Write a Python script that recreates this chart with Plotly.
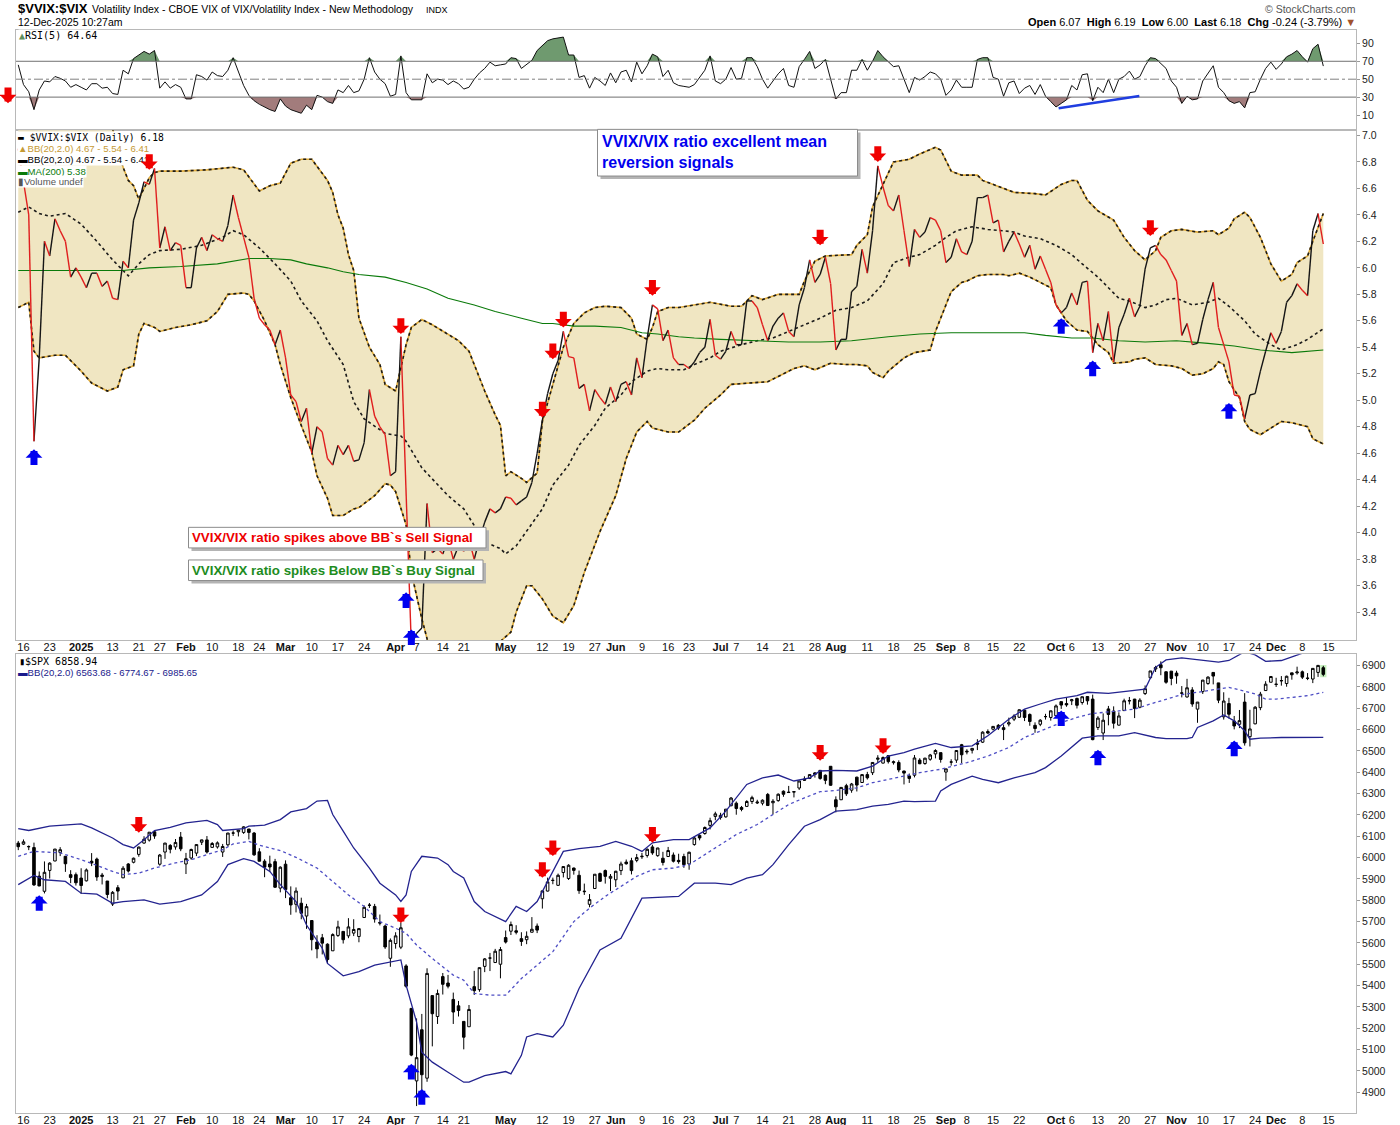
import pandas as pd
import plotly.graph_objects as go

# trading calendar (Dec 13 2024 .. Dec 15 2025)
HOLIDAYS = ["2024-12-25", "2025-01-01", "2025-01-09", "2025-01-20", "2025-02-17", "2025-04-18",
            "2025-05-26", "2025-06-19", "2025-07-04", "2025-09-01", "2025-11-27"]
sessions = [d.strftime("%Y-%m-%d") for d in pd.bdate_range("2024-12-13", "2025-12-15")
            if d.strftime("%Y-%m-%d") not in HOLIDAYS]
session_pos = {d: k for k, d in enumerate(sessions)}

tick_dates = ["2024-12-16", "2024-12-23", "2025-01-02", "2025-01-13", "2025-01-21", "2025-01-27",
              "2025-02-03", "2025-02-10", "2025-02-18", "2025-02-24", "2025-03-03", "2025-03-10",
              "2025-03-17", "2025-03-24", "2025-04-01", "2025-04-07", "2025-04-14", "2025-04-21",
              "2025-05-01", "2025-05-12", "2025-05-19", "2025-05-27", "2025-06-02", "2025-06-09",
              "2025-06-16", "2025-06-23", "2025-07-01", "2025-07-07", "2025-07-14", "2025-07-21",
              "2025-07-28", "2025-08-01", "2025-08-11", "2025-08-18", "2025-08-25", "2025-09-02",
              "2025-09-08", "2025-09-15", "2025-09-22", "2025-10-01", "2025-10-06", "2025-10-13",
              "2025-10-20", "2025-10-27", "2025-11-03", "2025-11-10", "2025-11-17", "2025-11-24",
              "2025-12-01", "2025-12-08", "2025-12-15"]
tick_labels = ["16", "23", "2025", "13", "21", "27", "Feb", "10", "18", "24", "Mar", "10", "17", "24",
               "Apr", "7", "14", "21", "May", "12", "19", "27", "Jun", "9", "16", "23", "Jul", "7", "14",
               "21", "28", "Aug", "11", "18", "25", "Sep", "8", "15", "22", "Oct", "6", "13", "20", "27",
               "Nov", "10", "17", "24", "Dec", "8", "15"]

rsi_ticks = [10, 30, 50, 70, 90]
ratio_ticks = [3.4, 3.6, 3.8, 4.0, 4.2, 4.4, 4.6, 4.8, 5.0, 5.2, 5.4, 5.6, 5.8, 6.0, 6.2, 6.4, 6.6, 6.8, 7.0]
spx_ticks = [4900, 5000, 5100, 5200, 5300, 5400, 5500, 5600, 5700, 5800, 5900, 6000, 6100, 6200,
             6300, 6400, 6500, 6600, 6700, 6800, 6900]

# $VVIX:$VIX daily close
ratio_close = [
    6.90, 6.65, 6.40, 4.69, 5.32, 6.20, 6.09, 6.37, 6.28, 6.20,
    5.93, 6.00, 5.93, 5.85, 5.96, 5.96, 5.86, 5.90, 5.77, 5.76,
    6.05, 6.00, 6.36, 6.49, 6.65, 6.63, 6.75, 6.15, 6.31, 6.13,
    6.19, 6.17, 5.85, 5.85, 6.15, 6.23, 6.13, 6.25, 6.22, 6.20,
    6.32, 6.55, 6.38, 6.23, 6.08, 5.77, 5.62, 5.57, 5.53, 5.42,
    5.53, 5.32, 5.04, 4.99, 4.84, 4.94, 4.60, 4.80, 4.76, 4.56,
    4.51, 4.66, 4.59, 4.66, 4.54, 4.55, 4.68, 5.08, 4.88, 4.80,
    4.74, 4.43, 4.46, 5.48, 4.30, 3.15, 3.24, 3.28, 4.22, 3.85,
    3.88, 3.84, 3.95, 3.80, 3.90, 3.86, 3.95, 3.80, 3.95, 4.08,
    4.18, 4.15, 4.18, 4.27, 4.26, 4.21, 4.24, 4.27, 4.38, 4.60,
    4.85, 5.05, 5.20, 5.30, 5.52, 5.33, 5.32, 5.09, 5.12, 4.92,
    5.08, 5.02, 4.97, 5.10, 4.99, 5.12, 5.14, 5.04, 5.32, 5.17,
    5.47, 5.72, 5.69, 5.45, 5.53, 5.32, 5.27, 5.27, 5.24, 5.29,
    5.36, 5.40, 5.61, 5.34, 5.31, 5.37, 5.52, 5.42, 5.42, 5.75,
    5.75, 5.70, 5.57, 5.45, 5.56, 5.62, 5.66, 5.52, 5.48, 5.72,
    5.85, 6.06, 5.89, 5.95, 6.08, 5.88, 5.38, 5.46, 5.46, 5.82,
    5.86, 6.14, 5.96, 6.28, 6.77, 6.61, 6.47, 6.43, 6.55, 6.28,
    6.01, 6.29, 6.23, 6.27, 6.38, 6.36, 6.28, 6.04, 6.08, 6.22,
    6.12, 6.10, 6.20, 6.53, 6.53, 6.55, 6.34, 6.36, 6.12, 6.20,
    6.27, 6.18, 6.08, 6.17, 5.99, 6.09, 5.99, 5.89, 5.72, 5.66,
    5.70, 5.81, 5.72, 5.89, 5.90, 5.36, 5.58, 5.45, 5.67, 5.29,
    5.55, 5.65, 5.77, 5.63, 5.71, 5.99, 6.15, 6.17, 6.10, 6.06,
    5.98, 5.90, 5.49, 5.58, 5.42, 5.43, 5.61, 5.76, 5.89, 5.55,
    5.42, 5.29, 5.04, 5.03, 4.86, 5.04, 5.05, 5.22, 5.37, 5.51,
    5.43, 5.52, 5.74, 5.79, 5.88, 5.83, 5.79, 6.28, 6.41, 6.18,
]

# RSI(5)
rsi5 = [
    66, 44, 36, 16, 38, 48, 47, 53, 51, 48,
    41, 44, 41, 38, 45, 45, 40, 41, 34, 33,
    60, 56, 73, 77, 81, 78, 82, 40, 47, 40,
    44, 41, 28, 28, 55, 53, 49, 58, 54, 53,
    60, 74, 58, 43, 32, 26, 22, 19, 16, 14,
    28, 20, 16, 14, 12, 21, 16, 32, 30, 25,
    23, 38, 35, 43, 35, 37, 50, 74, 58, 50,
    45, 31, 33, 76, 35, 27, 27, 27, 56, 46,
    50, 49, 44, 48, 45, 39, 41, 50, 57, 62,
    69, 65, 66, 67, 74, 73, 62, 66, 71, 82,
    88, 93, 95, 96, 97, 77, 77, 52, 54, 40,
    52, 48, 43, 57, 46, 58, 60, 47, 69, 56,
    65, 78, 75, 53, 60, 46, 43, 42, 41, 44,
    52, 60, 76, 48, 45, 50, 63, 50, 51, 74,
    74, 64, 50, 40, 48, 56, 62, 43, 41, 64,
    72, 81, 62, 66, 72, 50, 28, 35, 35, 60,
    60, 72, 60, 70, 82, 75, 69, 64, 65, 50,
    35, 52, 49, 53, 58, 56, 50, 32, 38, 49,
    41, 41, 41, 72, 74, 74, 52, 50, 31, 46,
    48, 34, 40, 43, 33, 44, 31, 25, 19, 23,
    27, 43, 38, 55, 56, 26, 41, 35, 50, 35,
    50, 53, 59, 50, 53, 65, 74, 73, 68, 62,
    48, 41, 23, 31, 27, 28, 48, 57, 65, 41,
    35, 26, 23, 25, 18, 35, 36, 50, 62, 69,
    61, 67, 75, 78, 82, 75, 69, 84, 89, 64.64,
]

# $SPX daily candles
spx_open = [
    6068, 6063, 6052, 6047, 5913, 5842, 5940, 5984, 6024, 6006,
    5920, 5920, 5904, 5891, 5983, 5993, 5911, 5890, 5782, 5859,
    5905, 5970, 5978, 6015, 6068, 6082, 6121, 5969, 6026, 6057,
    6050, 6096, 5970, 5998, 6021, 6072, 6083, 6048, 6050, 6026,
    6060, 6115, 6121, 6118, 6134, 6115, 6027, 5983, 5970, 5981,
    5857, 5969, 5812, 5781, 5786, 5726, 5705, 5604, 5624, 5594,
    5563, 5635, 5654, 5633, 5646, 5630, 5719, 5776, 5771, 5696,
    5679, 5528, 5597, 5580, 5492, 5293, 4953, 5193, 4966, 5353,
    5255, 5442, 5412, 5335, 5305, 5232, 5207, 5395, 5381, 5490,
    5529, 5508, 5500, 5625, 5655, 5657, 5620, 5615, 5650, 5679,
    5807, 5843, 5893, 5870, 5930, 5902, 5951, 5917, 5840, 5781,
    5855, 5925, 5939, 5903, 5896, 5939, 5979, 5985, 5987, 6004,
    6010, 6050, 6009, 5997, 6005, 6012, 5987, 6005, 5970, 6061,
    6104, 6113, 6151, 6193, 6188, 6191, 6243, 6255, 6235, 6240,
    6263, 6256, 6255, 6296, 6257, 6267, 6311, 6307, 6307, 6326,
    6368, 6371, 6397, 6409, 6386, 6428, 6271, 6271, 6337, 6316,
    6377, 6352, 6389, 6398, 6461, 6443, 6478, 6445, 6446, 6406,
    6383, 6386, 6457, 6441, 6461, 6486, 6492, 6401, 6448, 6457,
    6529, 6499, 6503, 6537, 6541, 6591, 6602, 6620, 6609, 6626,
    6649, 6658, 6691, 6671, 6620, 6625, 6661, 6657, 6665, 6731,
    6722, 6735, 6746, 6727, 6755, 6743, 6610, 6584, 6697, 6687,
    6621, 6689, 6736, 6743, 6705, 6769, 6843, 6884, 6904, 6871,
    6874, 6865, 6772, 6753, 6786, 6696, 6778, 6816, 6868, 6819,
    6660, 6722, 6640, 6625, 6729, 6567, 6627, 6703, 6783, 6822,
    6813, 6830, 6816, 6866, 6866, 6871, 6840, 6837, 6868, 6890,
]
spx_high = [
    6078, 6085, 6057, 6070, 5935, 5982, 5978, 6040, 6049, 6006,
    5941, 5930, 5950, 5949, 6021, 6000, 5928, 5890, 5843, 5871,
    5960, 5974, 6000, 6052, 6100, 6119, 6128, 6017, 6069, 6063,
    6087, 6120, 6022, 6042, 6062, 6084, 6101, 6073, 6076, 6064,
    6116, 6127, 6129, 6147, 6134, 6120, 6044, 5992, 6009, 5994,
    5959, 5987, 5865, 5860, 5812, 5783, 5705, 5636, 5642, 5598,
    5645, 5704, 5654, 5716, 5711, 5670, 5776, 5787, 5783, 5733,
    5685, 5621, 5650, 5696, 5500, 5293, 5246, 5267, 5481, 5353,
    5381, 5459, 5450, 5367, 5328, 5232, 5309, 5469, 5484, 5529,
    5553, 5572, 5581, 5658, 5700, 5683, 5650, 5654, 5721, 5691,
    5845, 5906, 5906, 5925, 5958, 5969, 5953, 5939, 5878, 5829,
    5922, 5930, 5944, 5923, 5938, 5981, 5991, 5999, 6017, 6022,
    6043, 6060, 6046, 6027, 6050, 6024, 6018, 6018, 6028, 6101,
    6109, 6146, 6187, 6215, 6210, 6227, 6284, 6263, 6242, 6269,
    6290, 6271, 6273, 6303, 6274, 6301, 6315, 6336, 6310, 6360,
    6381, 6390, 6401, 6409, 6390, 6428, 6287, 6330, 6346, 6350,
    6379, 6390, 6402, 6446, 6480, 6474, 6481, 6455, 6456, 6407,
    6394, 6481, 6466, 6468, 6486, 6508, 6492, 6416, 6461, 6502,
    6533, 6508, 6513, 6555, 6592, 6601, 6616, 6626, 6624, 6656,
    6672, 6695, 6693, 6676, 6634, 6649, 6674, 6689, 6718, 6731,
    6750, 6744, 6750, 6755, 6756, 6764, 6663, 6676, 6711, 6709,
    6681, 6745, 6753, 6744, 6747, 6807, 6875, 6899, 6920, 6873,
    6875, 6876, 6804, 6838, 6799, 6729, 6833, 6850, 6869, 6819,
    6775, 6749, 6664, 6692, 6771, 6693, 6710, 6777, 6827, 6850,
    6843, 6851, 6853, 6866, 6895, 6877, 6865, 6887, 6903, 6899,
]
spx_low = [
    6035, 6059, 6035, 5867, 5866, 5832, 5902, 5983, 6007, 5933,
    5880, 5869, 5830, 5888, 5960, 5891, 5874, 5809, 5773, 5801,
    5904, 5930, 5973, 6004, 6065, 6075, 6088, 5962, 5994, 6020,
    6037, 6030, 5923, 5990, 6007, 6059, 6019, 6045, 6042, 6003,
    6052, 6101, 6099, 6111, 6085, 6008, 5982, 5908, 5932, 5858,
    5837, 5810, 5732, 5743, 5711, 5666, 5565, 5528, 5546, 5504,
    5563, 5628, 5597, 5622, 5632, 5603, 5719, 5764, 5695, 5682,
    5572, 5488, 5573, 5571, 5390, 5069, 4835, 4910, 4949, 5115,
    5220, 5358, 5387, 5220, 5255, 5101, 5207, 5356, 5371, 5463,
    5468, 5506, 5434, 5597, 5637, 5640, 5586, 5594, 5650, 5646,
    5761, 5841, 5875, 5867, 5907, 5895, 5920, 5830, 5825, 5767,
    5854, 5886, 5878, 5843, 5862, 5918, 5967, 5921, 5978, 5994,
    6000, 6013, 6004, 5963, 6004, 5977, 5971, 5952, 5943, 6056,
    6081, 6107, 6132, 6175, 6178, 6187, 6241, 6201, 6217, 6237,
    6251, 6251, 6245, 6242, 6202, 6262, 6285, 6303, 6282, 6317,
    6360, 6368, 6375, 6365, 6344, 6337, 6212, 6270, 6289, 6304,
    6310, 6350, 6366, 6387, 6444, 6441, 6441, 6436, 6400, 6343,
    6350, 6376, 6438, 6435, 6454, 6465, 6445, 6360, 6431, 6444,
    6443, 6484, 6488, 6504, 6537, 6579, 6596, 6598, 6551, 6615,
    6640, 6655, 6640, 6618, 6585, 6616, 6647, 6642, 6662, 6697,
    6707, 6715, 6699, 6717, 6717, 6550, 6598, 6551, 6620, 6605,
    6619, 6688, 6718, 6654, 6700, 6762, 6837, 6870, 6855, 6815,
    6808, 6815, 6751, 6750, 6707, 6632, 6767, 6810, 6812, 6724,
    6647, 6652, 6601, 6607, 6525, 6521, 6625, 6691, 6782, 6822,
    6800, 6806, 6801, 6834, 6858, 6837, 6832, 6818, 6847, 6850,
]
spx_close = [
    6051, 6074, 6051, 5872, 5867, 5931, 5974, 6040, 6037, 5971,
    5907, 5882, 5869, 5942, 5975, 5909, 5918, 5827, 5837, 5843,
    5950, 5937, 5997, 6049, 6086, 6119, 6101, 6012, 6068, 6039,
    6071, 6041, 5995, 6038, 6061, 6083, 6026, 6066, 6069, 6052,
    6115, 6115, 6129, 6144, 6118, 6013, 5983, 5955, 5956, 5861,
    5955, 5850, 5778, 5843, 5739, 5770, 5615, 5572, 5599, 5522,
    5639, 5675, 5615, 5675, 5663, 5667, 5767, 5777, 5712, 5693,
    5581, 5612, 5633, 5671, 5397, 5074, 5062, 4982, 5457, 5268,
    5363, 5406, 5397, 5276, 5283, 5158, 5288, 5376, 5484, 5525,
    5529, 5561, 5569, 5604, 5686, 5650, 5607, 5631, 5664, 5660,
    5844, 5886, 5893, 5917, 5958, 5964, 5940, 5845, 5842, 5803,
    5922, 5889, 5912, 5912, 5936, 5970, 5971, 5939, 6000, 6006,
    6039, 6022, 6045, 5977, 6033, 5983, 5981, 5967, 6025, 6092,
    6092, 6141, 6173, 6205, 6198, 6227, 6279, 6230, 6226, 6263,
    6281, 6260, 6269, 6244, 6264, 6297, 6297, 6305, 6309, 6359,
    6363, 6389, 6390, 6371, 6362, 6339, 6238, 6329, 6299, 6345,
    6340, 6389, 6374, 6446, 6466, 6469, 6450, 6449, 6411, 6396,
    6371, 6467, 6440, 6466, 6481, 6502, 6460, 6416, 6448, 6502,
    6482, 6496, 6512, 6532, 6588, 6584, 6615, 6607, 6600, 6632,
    6664, 6693, 6657, 6638, 6605, 6644, 6661, 6688, 6711, 6715,
    6716, 6740, 6714, 6754, 6735, 6553, 6654, 6644, 6671, 6630,
    6664, 6735, 6735, 6699, 6738, 6792, 6875, 6891, 6890, 6822,
    6840, 6852, 6771, 6796, 6720, 6729, 6832, 6846, 6851, 6738,
    6734, 6672, 6617, 6642, 6538, 6603, 6705, 6766, 6813, 6849,
    6812, 6829, 6850, 6857, 6870, 6846, 6841, 6887, 6901, 6859,
]

# indicator readings (session number, value)
ratio_bb_upper = [
    (0, 7.15), (2, 7.25), (4, 7.40), (7, 7.45), (10, 7.48), (13, 7.40), (16, 7.20), (18, 7.05), (19, 6.90), (20, 6.76),
    (21, 6.66), (22, 6.62), (23, 6.52), (24, 6.60), (25, 6.68), (26, 6.72), (27, 6.73), (31, 6.73), (36, 6.74), (41, 6.76),
    (43, 6.74), (46, 6.58), (48, 6.62), (50, 6.64), (52, 6.79), (54, 6.82), (56, 6.82), (59, 6.66), (60, 6.57), (61, 6.40),
    (62, 6.30), (63, 6.10), (64, 5.98), (65, 5.62), (67, 5.40), (69, 5.27), (70, 5.12), (72, 5.07), (73, 5.24), (74, 5.42),
    (75, 5.55), (77, 5.61), (79, 5.57), (82, 5.50), (84, 5.45), (86, 5.37), (87, 5.27), (89, 5.07), (91, 4.89), (92, 4.81),
    (93, 4.43), (94, 4.46), (96, 4.41), (97, 4.38), (99, 4.45), (100, 4.84), (102, 5.12), (104, 5.40), (106, 5.58), (108, 5.66),
    (110, 5.70), (112, 5.71), (115, 5.70), (117, 5.62), (118, 5.50), (120, 5.46), (121, 5.55), (122, 5.67), (124, 5.70), (126, 5.70),
    (132, 5.74), (136, 5.71), (138, 5.71), (140, 5.79), (142, 5.76), (145, 5.80), (149, 5.80), (150, 5.90), (152, 6.05), (154, 6.09),
    (159, 6.10), (160, 6.17), (162, 6.25), (163, 6.46), (165, 6.63), (167, 6.80), (170, 6.82), (172, 6.86), (175, 6.91), (176, 6.89),
    (178, 6.73), (180, 6.70), (183, 6.70), (184, 6.66), (188, 6.60), (190, 6.57), (194, 6.56), (196, 6.55), (199, 6.63), (201, 6.66),
    (202, 6.66), (204, 6.51), (206, 6.43), (209, 6.36), (211, 6.23), (213, 6.13), (215, 6.06), (217, 6.13), (218, 6.23), (220, 6.28),
    (222, 6.29), (225, 6.27), (228, 6.28), (229, 6.25), (231, 6.30), (232, 6.37), (234, 6.42), (235, 6.38), (237, 6.23), (239, 6.03),
    (241, 5.90), (243, 5.95), (244, 6.04), (246, 6.09), (247, 6.20), (249, 6.41),
]
ratio_bb_lower = [
    (0, 5.70), (2, 5.74), (3, 5.37), (4, 5.32), (7, 5.34), (9, 5.34), (12, 5.22), (14, 5.13), (17, 5.07), (19, 5.10),
    (20, 5.23), (22, 5.26), (23, 5.50), (24, 5.58), (26, 5.55), (27, 5.52), (30, 5.55), (33, 5.57), (36, 5.60), (38, 5.67),
    (40, 5.80), (43, 5.81), (44, 5.80), (45, 5.75), (47, 5.60), (49, 5.42), (50, 5.27), (52, 5.02), (54, 4.81), (56, 4.61),
    (57, 4.43), (59, 4.26), (60, 4.13), (62, 4.13), (64, 4.18), (65, 4.19), (68, 4.28), (70, 4.37), (71, 4.36), (72, 4.31),
    (74, 4.06), (75, 3.70), (77, 3.35), (79, 3.05), (81, 2.90), (85, 2.85), (89, 2.95), (92, 3.18), (94, 3.25), (95, 3.40),
    (97, 3.60), (98, 3.60), (100, 3.50), (102, 3.37), (104, 3.32), (106, 3.45), (108, 3.70), (111, 4.01), (114, 4.28), (116, 4.56),
    (118, 4.76), (120, 4.84), (121, 4.79), (124, 4.76), (126, 4.76), (127, 4.79), (129, 4.85), (131, 4.94), (134, 5.04), (136, 5.12),
    (139, 5.13), (143, 5.14), (145, 5.18), (148, 5.24), (150, 5.26), (152, 5.23), (155, 5.28), (158, 5.27), (160, 5.27), (162, 5.26),
    (163, 5.21), (165, 5.17), (166, 5.22), (169, 5.32), (171, 5.36), (174, 5.38), (175, 5.52), (176, 5.62), (178, 5.82), (180, 5.89),
    (181, 5.90), (183, 5.94), (185, 5.95), (188, 5.95), (189, 5.94), (191, 5.96), (193, 5.93), (195, 5.89), (197, 5.85), (198, 5.72),
    (200, 5.60), (202, 5.53), (204, 5.52), (206, 5.42), (208, 5.36), (209, 5.28), (212, 5.29), (213, 5.31), (215, 5.32), (217, 5.27),
    (220, 5.26), (222, 5.24), (224, 5.19), (226, 5.20), (228, 5.24), (229, 5.29), (230, 5.27), (231, 5.14), (233, 5.02), (234, 4.84),
    (235, 4.78), (237, 4.74), (239, 4.79), (241, 4.84), (243, 4.83), (245, 4.81), (246, 4.80), (247, 4.71), (249, 4.67),
]
ratio_bb_mid = [
    (0, 6.42), (2, 6.46), (4, 6.41), (6, 6.39), (9, 6.41), (12, 6.33), (15, 6.20), (18, 6.06), (20, 5.98), (21, 5.94),
    (23, 6.03), (25, 6.10), (27, 6.13), (31, 6.14), (35, 6.17), (39, 6.23), (41, 6.28), (43, 6.25), (46, 6.15), (49, 6.03),
    (52, 5.90), (54, 5.75), (57, 5.60), (59, 5.45), (62, 5.27), (64, 4.99), (66, 4.86), (70, 4.75), (73, 4.73), (74, 4.69),
    (77, 4.49), (80, 4.36), (82, 4.28), (85, 4.18), (87, 4.06), (89, 3.93), (92, 3.88), (93, 3.84), (95, 3.90), (97, 4.01),
    (100, 4.18), (102, 4.36), (105, 4.51), (107, 4.66), (110, 4.81), (112, 4.94), (115, 5.04), (117, 5.14), (120, 5.22), (122, 5.24),
    (124, 5.23), (127, 5.23), (129, 5.27), (132, 5.32), (134, 5.37), (138, 5.42), (141, 5.45), (144, 5.47), (147, 5.52), (150, 5.57),
    (153, 5.62), (156, 5.68), (159, 5.70), (162, 5.75), (165, 5.88), (167, 6.04), (170, 6.08), (172, 6.10), (175, 6.17), (177, 6.23),
    (179, 6.28), (182, 6.31), (185, 6.29), (188, 6.28), (190, 6.27), (192, 6.24), (195, 6.22), (198, 6.17), (201, 6.10), (203, 6.03),
    (206, 5.93), (208, 5.85), (210, 5.77), (212, 5.75), (215, 5.70), (217, 5.72), (219, 5.76), (221, 5.77), (224, 5.72), (227, 5.74),
    (229, 5.77), (231, 5.71), (234, 5.60), (236, 5.50), (239, 5.42), (241, 5.38), (244, 5.42), (246, 5.46), (249, 5.54),
]
ratio_ma200 = [
    (0, 5.98), (6, 5.98), (12, 5.98), (20, 5.98), (25, 6.00), (31, 6.01), (38, 6.03), (44, 6.07), (48, 6.07), (52, 6.06),
    (55, 6.03), (59, 6.00), (62, 5.97), (65, 5.95), (70, 5.93), (74, 5.89), (78, 5.84), (82, 5.77), (87, 5.72), (91, 5.67),
    (96, 5.62), (100, 5.58), (102, 5.58), (106, 5.56), (110, 5.56), (115, 5.55), (119, 5.51), (122, 5.50), (126, 5.48), (129, 5.47),
    (134, 5.46), (140, 5.45), (147, 5.44), (153, 5.44), (159, 5.45), (166, 5.48), (172, 5.50), (178, 5.51), (185, 5.51), (192, 5.51),
    (196, 5.49), (201, 5.47), (205, 5.47), (210, 5.45), (215, 5.44), (221, 5.45), (227, 5.43), (232, 5.41), (237, 5.38), (243, 5.36),
    (249, 5.38),
]
spx_bb_upper = [
    (0, 6136), (2, 6127), (6, 6147), (12, 6158), (14, 6139), (18, 6092), (20, 6061), (22, 6045), (24, 6084), (26, 6127),
    (29, 6142), (32, 6163), (36, 6174), (38, 6155), (39, 6127), (43, 6136), (44, 6147), (47, 6152), (50, 6178), (52, 6214),
    (55, 6230), (57, 6265), (59, 6268), (60, 6202), (62, 6124), (64, 6045), (67, 5951), (69, 5880), (72, 5825), (73, 5794),
    (74, 5825), (75, 5935), (77, 6006), (80, 5998), (82, 5967), (83, 5935), (85, 5904), (87, 5794), (89, 5747), (93, 5700),
    (95, 5771), (97, 5747), (99, 5794), (102, 5935), (104, 6029), (107, 6042), (111, 6053), (114, 6076), (117, 6053), (119, 6029),
    (121, 6069), (125, 6084), (128, 6084), (132, 6139), (135, 6218), (139, 6343), (142, 6374), (145, 6387), (148, 6359), (151, 6374),
    (153, 6406), (156, 6409), (160, 6406), (163, 6429), (166, 6476), (169, 6492), (171, 6508), (175, 6535), (178, 6516), (182, 6524),
    (185, 6571), (189, 6649), (192, 6696), (195, 6720), (198, 6743), (202, 6759), (204, 6775), (208, 6770), (211, 6779), (215, 6790),
    (217, 6892), (219, 6927), (222, 6936), (225, 6927), (229, 6916), (231, 6924), (234, 6965), (236, 6950), (238, 6920), (241, 6924),
    (243, 6940), (245, 6958), (247, 6975), (249, 6986),
]
spx_bb_mid = [
    (0, 6006), (3, 6029), (8, 6022), (13, 5982), (18, 5935), (20, 5920), (23, 5927), (26, 5951), (30, 5975), (33, 5990),
    (36, 6014), (39, 6037), (41, 6064), (44, 6076), (46, 6058), (50, 6033), (53, 6001), (57, 5951), (60, 5888), (63, 5825),
    (66, 5771), (69, 5700), (72, 5669), (74, 5645), (76, 5590), (79, 5527), (83, 5449), (85, 5425), (87, 5363), (90, 5355),
    (93, 5355), (96, 5433), (99, 5496), (102, 5559), (106, 5700), (109, 5763), (112, 5818), (115, 5865), (118, 5912), (121, 5943),
    (125, 5951), (128, 5967), (131, 6014), (134, 6061), (137, 6108), (141, 6155), (144, 6202), (147, 6249), (150, 6280), (153, 6309),
    (156, 6315), (160, 6327), (163, 6351), (166, 6367), (169, 6382), (172, 6398), (176, 6414), (181, 6445), (185, 6476), (189, 6516),
    (192, 6563), (196, 6602), (199, 6633), (202, 6657), (205, 6676), (209, 6685), (213, 6696), (216, 6720), (219, 6743), (222, 6764),
    (225, 6775), (229, 6790), (231, 6798), (233, 6786), (236, 6767), (238, 6743), (240, 6743), (243, 6751), (246, 6759), (249, 6775),
]
spx_bb_lower = [
    (0, 5873), (3, 5916), (5, 5896), (9, 5888), (12, 5833), (15, 5829), (18, 5786), (20, 5794), (24, 5802), (27, 5782),
    (31, 5794), (35, 5825), (38, 5888), (40, 5967), (43, 5995), (45, 5982), (48, 5935), (50, 5873), (53, 5794), (55, 5684),
    (58, 5575), (59, 5504), (62, 5446), (65, 5465), (68, 5496), (71, 5512), (73, 5520), (74, 5402), (76, 5229), (77, 5088),
    (79, 5041), (82, 4994), (85, 4947), (86, 4947), (89, 4978), (93, 4997), (94, 4986), (96, 5073), (97, 5159), (99, 5175),
    (102, 5159), (104, 5214), (107, 5386), (111, 5567), (115, 5622), (119, 5810), (123, 5813), (126, 5818), (129, 5880), (133, 5880),
    (136, 5873), (139, 5904), (142, 5920), (144, 5967), (147, 6061), (150, 6147), (153, 6178), (156, 6218), (160, 6225), (163, 6241),
    (166, 6249), (169, 6265), (171, 6262), (175, 6265), (176, 6312), (178, 6343), (182, 6382), (184, 6367), (187, 6351), (190, 6374),
    (194, 6398), (196, 6422), (199, 6476), (201, 6516), (203, 6560), (206, 6571), (210, 6571), (213, 6586), (217, 6563), (219, 6558),
    (223, 6558), (224, 6563), (225, 6610), (228, 6641), (230, 6669), (232, 6641), (234, 6594), (235, 6555), (237, 6560), (241, 6563),
    (245, 6563), (249, 6564),
]

# hand-drawn signal marks (session number, level at arrow tip)
ratio_sell_marks = [(25, 6.74), (73, 5.50), (100, 4.87), (102, 5.31), (104, 5.55), (121, 5.79), (153, 6.17), (164, 6.80), (216, 6.24)]
ratio_buy_marks = [(3, 4.63), (74, 3.55), (75, 3.27), (199, 5.62), (205, 5.30), (231, 4.98)]
spx_sell_marks = [(23, 6117), (73, 5693), (100, 5905), (102, 6007), (121, 6070), (153, 6454), (165, 6486)]
spx_buy_marks = [(4, 5824), (75, 5033), (77, 4915), (199, 6690), (206, 6506), (232, 6549)]
rsi_trend = [(198.5, 17.5), (213.9, 31.2)]

# ---------------------------------------------------------------------------
# layout is measured on the 1400x1125 picture; the page is photographed a
# little taller than the window and squeezed back, so the canvas is stretched
W, H = 1400, 1125
CANVAS_H = 1138
SY = CANVAS_H / H
ML, MR, MT, MB = 16, 44, 30, 16
SANS = "Liberation Sans, Arial, sans-serif"
MONO = "DejaVu Sans Mono, monospace"
RED, BLUE = "#f00000", "#0000f0"


def px(x):
    return (x - ML) / (W - ML - MR)


def py(y):
    return (H - MB - y) / (H - MT - MB)


def unzip(pairs):
    return [p[0] for p in pairs], [p[1] for p in pairs]


n = len(ratio_close)
days = list(range(n))
fig = go.Figure()

# RSI panel
fig.add_trace(go.Scatter(x=days, y=[70] * n, xaxis="x", yaxis="y", mode="lines", line=dict(width=0)))
fig.add_trace(go.Scatter(x=days, y=[max(v, 70) for v in rsi5], xaxis="x", yaxis="y", mode="lines",
                         line=dict(width=0), fill="tonexty", fillcolor="#6f9a6f"))
fig.add_trace(go.Scatter(x=days, y=[30] * n, xaxis="x", yaxis="y", mode="lines", line=dict(width=0)))
fig.add_trace(go.Scatter(x=days, y=[min(v, 30) for v in rsi5], xaxis="x", yaxis="y", mode="lines",
                         line=dict(width=0), fill="tonexty", fillcolor="#a27c7c"))
fig.add_trace(go.Scatter(x=days, y=rsi5, xaxis="x", yaxis="y", mode="lines",
                         line=dict(color="#111111", width=1)))

# ratio panel: bollinger envelope
ux, uy = unzip(ratio_bb_upper)
lx, ly = unzip(ratio_bb_lower)
mx, my = unzip(ratio_bb_mid)
ax_, ay_ = unzip(ratio_ma200)
fig.add_trace(go.Scatter(x=ux + lx[::-1], y=uy + ly[::-1], xaxis="x2", yaxis="y2", mode="lines",
                         line=dict(width=0), fill="toself", fillcolor="#f0e6c2"))
for bx, by in ((ux, uy), (lx, ly)):
    fig.add_trace(go.Scatter(x=bx, y=by, xaxis="x2", yaxis="y2", mode="lines",
                             line=dict(color="#e0ac3c", width=1.6)))
    fig.add_trace(go.Scatter(x=bx, y=by, xaxis="x2", yaxis="y2", mode="lines",
                             line=dict(color="#1a1a1a", width=1.6, dash="dot")))
fig.add_trace(go.Scatter(x=mx, y=my, xaxis="x2", yaxis="y2", mode="lines",
                         line=dict(color="#1a1a1a", width=1.6, dash="dot")))
fig.add_trace(go.Scatter(x=ax_, y=ay_, xaxis="x2", yaxis="y2", mode="lines",
                         line=dict(color="#0a7a0a", width=1.1)))

# ratio line, black on up days and red on down days
up_x, up_y, dn_x, dn_y = [], [], [], []
for k in range(1, n):
    a, b = ratio_close[k - 1], ratio_close[k]
    if b >= a:
        up_x += [k - 1, k, None]
        up_y += [a, b, None]
    else:
        dn_x += [k - 1, k, None]
        dn_y += [a, b, None]
fig.add_trace(go.Scatter(x=up_x, y=up_y, xaxis="x2", yaxis="y2", mode="lines",
                         line=dict(color="#151515", width=1.4)))
fig.add_trace(go.Scatter(x=dn_x, y=dn_y, xaxis="x2", yaxis="y2", mode="lines",
                         line=dict(color="#e01e1e", width=1.4)))

# SPX panel
sux, suy = unzip(spx_bb_upper)
slx, sly = unzip(spx_bb_lower)
smx, smy = unzip(spx_bb_mid)
for bx, by in ((sux, suy), (slx, sly)):
    fig.add_trace(go.Scatter(x=bx, y=by, xaxis="x3", yaxis="y3", mode="lines",
                             line=dict(color="#23238f", width=1.3)))
fig.add_trace(go.Scatter(x=smx, y=smy, xaxis="x3", yaxis="y3", mode="lines",
                         line=dict(color="#4d4dc4", width=1.3, dash="dot")))
fig.add_trace(go.Candlestick(
    x=days, open=spx_open, high=spx_high, low=spx_low, close=spx_close, xaxis="x3", yaxis="y3",
    increasing=dict(line=dict(color="#000000", width=1), fillcolor="#ffffff"),
    decreasing=dict(line=dict(color="#000000", width=1), fillcolor="#000000"),
    whiskerwidth=0,
))

# axes
x_range = [-0.43, 255.24]
tick_pos = [session_pos[d] for d in tick_dates]
tick_text = [t if (t.isdigit() and len(t) <= 2) else "<b>%s</b>" % t for t in tick_labels]
xcommon = dict(range=x_range, showgrid=False, zeroline=False, showline=True, mirror=True,
               linecolor="#b8b8b8", linewidth=1, fixedrange=True)
ycommon = dict(side="right", showgrid=False, zeroline=False, showline=True, mirror=True,
               linecolor="#b8b8b8", linewidth=1, ticks="outside", ticklen=3, tickcolor="#9a9a9a",
               ticklabeloverflow="allow",
               tickfont=dict(family=SANS, size=10.5, color="#222222"), fixedrange=True)
xlabels = dict(tickmode="array", tickvals=tick_pos, ticktext=tick_text, ticks="", ticklabelstandoff=-3,
               tickfont=dict(family=SANS, size=11, color="#111111"))

fig.update_layout(
    xaxis=dict(domain=[0, 1], anchor="y", showticklabels=False, ticks="", **xcommon),
    xaxis2=dict(domain=[0, 1], anchor="y2", **xlabels, **xcommon),
    xaxis3=dict(domain=[0, 1], anchor="y3", rangeslider=dict(visible=False), **xlabels, **xcommon),
    yaxis=dict(domain=[py(130), py(30)], anchor="x", range=[-7.1, 104.9], tickvals=rsi_ticks, **ycommon),
    yaxis2=dict(domain=[py(638), py(130)], anchor="x2", range=[3.188, 7.038], tickvals=ratio_ticks,
                tickformat=".1f", **ycommon),
    yaxis3=dict(domain=[py(1109), py(652)], anchor="x3", range=[4802.6, 6953], tickvals=spx_ticks,
                tickformat="d", **ycommon),
)

# shapes
shapes = [
    dict(type="line", xref="x domain", yref="y", x0=0, x1=1, y0=70, y1=70, line=dict(color="#707070", width=1)),
    dict(type="line", xref="x domain", yref="y", x0=0, x1=1, y0=30, y1=30, line=dict(color="#707070", width=1)),
    dict(type="line", xref="x domain", yref="y", x0=0, x1=1, y0=50, y1=50,
         line=dict(color="#808080", width=1, dash="dashdot")),
    dict(type="line", xref="x", yref="y", x0=rsi_trend[0][0], y0=rsi_trend[0][1], x1=rsi_trend[1][0],
         y1=rsi_trend[1][1], line=dict(color="#1f3de0", width=2.5)),
    dict(type="rect", xref="x3", yref="y3", x0=n - 1.6, x1=n - 0.4, y0=spx_low[-1] - 4, y1=spx_high[-1] + 4,
         fillcolor="#c6efbe", line=dict(width=0), layer="below"),
]
note_boxes = [(597.5, 129, 857.5, 175.5), (188.5, 525.5, 486, 546), (188.5, 558, 483, 578.5)]
for x0, y0, x1, y1 in note_boxes:
    shapes.append(dict(type="rect", xref="paper", yref="paper", x0=px(x0 + 3), x1=px(x1 + 3),
                       y0=py(y1 + 3), y1=py(y0 + 3), fillcolor="#b4b4b4", line=dict(width=0), layer="above"))
    shapes.append(dict(type="rect", xref="paper", yref="paper", x0=px(x0), x1=px(x1), y0=py(y1), y1=py(y0),
                       fillcolor="#ffffff", line=dict(color="#8c8c8c", width=1), layer="above"))


def label(x, y, text, size, color="#000000", family=SANS, anchor="left", bg=None):
    return dict(xref="paper", yref="paper", x=px(x), y=py(y), xanchor=anchor, yanchor="middle",
                text=text, showarrow=False, font=dict(family=family, size=size, color=color),
                bgcolor=bg, borderpad=0)


def block_arrow(xref, yref, x, y, color, down):
    tail = 17 * SY
    return dict(xref=xref, yref=yref, x=x, y=y, ax=0, ay=-tail if down else tail, text="",
                showarrow=True, arrowhead=1, arrowsize=0.4, arrowwidth=7, arrowcolor=color, standoff=0)


ann = [
    label(17, 9, "<b>$VVIX:$VIX</b>", 13),
    label(91, 9.5, "Volatility Index - CBOE VIX of VIX/Volatility Index - New Methodology", 10.5),
    label(425, 10, "INDX", 9),
    label(17, 22, "12-Dec-2025 10:27am", 10.5),
    label(1357, 9, "\u00a9 StockCharts.com", 10.5, color="#555555", anchor="right"),
    label(1357, 22, "<b>Open</b> 6.07  <b>High</b> 6.19  <b>Low</b> 6.00  <b>Last</b> 6.18  "
                    "<b>Chg</b> -0.24 (-3.79%) <span style='color:#a0522d'>\u25bc</span>", 11, anchor="right"),
    # panel legends
    label(18, 35, "<span style='color:#5f8f5f'>\u25b2</span>RSI(5) 64.64", 10, family=MONO, bg="#ffffff"),
    label(17, 137, "\u25ac $VVIX:$VIX (Daily) 6.18", 9.7, family=MONO, bg="#ffffff"),
    label(17, 148, "\u25b2BB(20,2.0) 4.67 - 5.54 - 6.41", 9.6, color="#c59a34", bg="#ffffff"),
    label(17, 159, "\u25acBB(20,2.0) 4.67 - 5.54 - 6.41", 9.6, bg="#ffffff"),
    label(17, 170.5, "\u25acMA(200) 5.38", 9.6, color="#0a7a0a", bg="#ffffff"),
    label(17, 181, "\u25aeVolume undef", 9.6, color="#555555", bg="#ffffff"),
    label(18, 659, "\u25ae$SPX 6858.94", 10, family=MONO, bg="#ffffff"),
    label(17, 670, "\u25acBB(20,2.0) 6563.68 - 6774.67 - 6985.65", 9.6, color="#1a1a8c", bg="#ffffff"),
    # notes
    dict(xref="paper", yref="paper", x=px(600), y=py(131), xanchor="left", yanchor="top", showarrow=False,
         align="left", text="<b>VVIX/VIX ratio excellent mean<br>reversion signals</b>",
         font=dict(family=SANS, size=16, color="#0000ee")),
    label(191, 536, "<b>VVIX/VIX ratio spikes above BB`s Sell Signal</b>", 13.3, color="#ee0000"),
    label(191, 568.5, "<b>VVIX/VIX ratio spikes Below BB`s Buy Signal</b>", 13.3, color="#1e8c1e"),
]
for d, v in ratio_sell_marks:
    ann.append(block_arrow("x2", "y2", d, v, RED, True))
for d, v in ratio_buy_marks:
    ann.append(block_arrow("x2", "y2", d, v, BLUE, False))
for d, v in spx_sell_marks:
    ann.append(block_arrow("x3", "y3", d, v, RED, True))
for d, v in spx_buy_marks:
    ann.append(block_arrow("x3", "y3", d, v, BLUE, False))
ann.append(dict(xref="paper", yref="paper", x=px(8), y=py(103), ax=0, ay=-17 * SY, text="", showarrow=True,
                arrowhead=1, arrowsize=0.4, arrowwidth=7, arrowcolor=RED, standoff=0))

fig.update_layout(
    width=W, height=CANVAS_H, margin=dict(l=ML, r=MR, t=MT * SY, b=MB * SY),
    paper_bgcolor="#ffffff", plot_bgcolor="#ffffff",
    showlegend=False, hovermode=False,
    font=dict(family=SANS, size=11, color="#000000"),
    shapes=shapes, annotations=ann,
)

# the page body keeps its default 8px margin otherwise
fig.write_html("out.html", config={"displayModeBar": False},
               post_script="document.body.style.margin = '0px';")
